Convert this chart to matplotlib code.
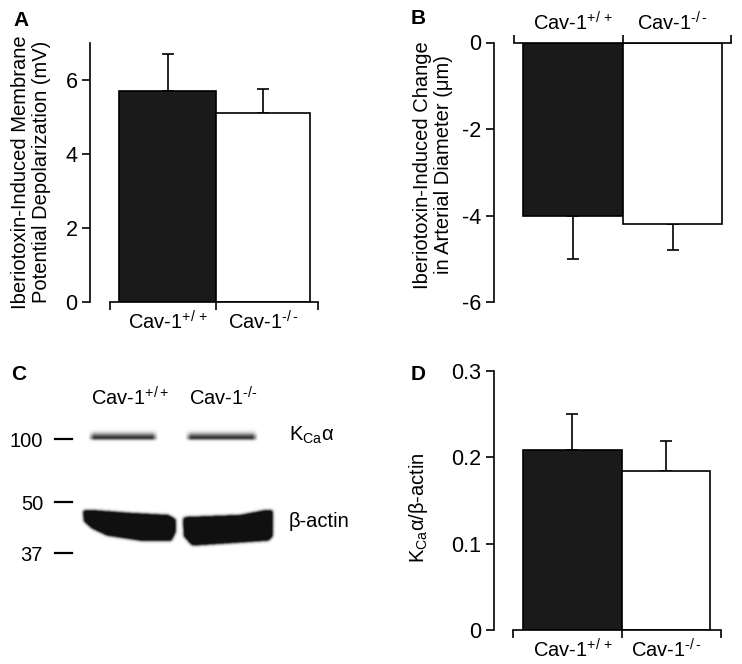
import numpy as np, matplotlib; matplotlib.use('Agg'); import matplotlib.pyplot as plt
from matplotlib.path import Path
from matplotlib.ticker import FixedLocator, NullFormatter, FixedFormatter

plt.rcParams['font.family'] = ['Liberation Sans', 'DejaVu Sans']
plt.rcParams['mathtext.fontset'] = 'custom'
plt.rcParams['mathtext.rm'] = 'Liberation Sans'
plt.rcParams['mathtext.it'] = 'Liberation Sans:italic'

# ---- data ----
groups = ['Cav-1$^{+/\\,+}$', 'Cav-1$^{\u2010/\\,\u2010}$']
depol_mV = [5.7, 5.1]; depol_sem = [1.0, 0.65]          # (A)
diam_um = [-4.0, -4.2]; diam_sem = [1.0, 0.6]           # (B)
ratio = [0.208, 0.184]; ratio_sem = [0.042, 0.035]      # (D)
lanes = ['Cav-1$^{+/+}$', 'Cav-1$^{\u2010/\u2010}$']     # (C)
mw_kda = [100, 50, 37]
blot_bands = ['K$_{\\rm Ca}$α', 'β-actin']

W, H = 742, 664
fig = plt.figure(figsize=(W/100, H/100), dpi=100)
BLACK = '#1a1a1a'; LW = 1.2; FS_T = 15.5; FS_L = 14.5; FS_C = 14.5

def bar_panel(box, bar0, unit, widths, ylim, line0, vals, errs, yticks, ylabs, top=False):
    l, t, r, b = box
    ax = fig.add_axes([l/W, 1-b/H, (r-l)/W, (b-t)/H])
    px = lambda p: (p-bar0)/unit
    x = np.arange(len(vals))
    ax.bar(x, vals, width=widths, align='edge', color=[BLACK, 'white'], edgecolor='k', lw=LW, zorder=2)
    cx = x+np.array(widths)/2
    z = [0]*len(vals)
    ye = [errs, z] if top else [z, errs]
    ax.errorbar(cx, vals, yerr=ye, fmt='none', ecolor='k', elinewidth=LW, capsize=4.5, capthick=LW, zorder=1)
    ax.set_xlim(px(l), px(r)); ax.set_ylim(*ylim)
    side = 'top' if top else 'bottom'
    for s in ['right', 'top', 'bottom']: ax.spines[s].set_visible(s == side)
    for s in ['left', side]: ax.spines[s].set_linewidth(LW)
    ax.spines['left'].set_bounds(*ylim)
    ax.spines[side].set_bounds(px(line0), px(r))
    ax.set_yticks(yticks); ax.set_yticklabels(ylabs, fontsize=FS_T)
    ax.tick_params(axis='y', length=6, width=LW, pad=3)
    if top: ax.xaxis.tick_top()
    ax.xaxis.set_major_locator(FixedLocator([px(line0), len(vals)-1, px(r)]))
    ax.xaxis.set_major_formatter(NullFormatter())
    ax.xaxis.set_minor_locator(FixedLocator(cx))
    ax.xaxis.set_minor_formatter(FixedFormatter(groups))
    ax.tick_params(axis='x', which='major', length=6, width=LW, direction='out')
    ax.tick_params(axis='x', which='minor', length=0, pad=6, labelsize=FS_C)
    ax.patch.set_alpha(0)
    return ax

# (A)
bar_panel((90, 43, 318, 302), 119, 97, [1.0, 0.97], (0, 7), 110, depol_mV, depol_sem,
          [0, 2, 4, 6], ['0', '2', '4', '6'])
fig.text(31/W, 1-172/H, 'Iberiotoxin-Induced Membrane\nPotential Depolarization (mV)', rotation=90,
         ha='center', va='center', fontsize=FS_L, linespacing=1.08)
# (B)
bar_panel((494, 42.5, 731, 302.3), 523, 100, [1.0, 0.99], (-6, 0), 514, diam_um, diam_sem,
          [-6, -4, -2, 0], ['-6', '-4', '-2', '0'], top=True)
fig.text(433/W, 1-165/H, 'Iberiotoxin-Induced Change\nin Arterial Diameter (μm)', rotation=90,
         ha='center', va='center', fontsize=FS_L, linespacing=1.08)
# (D)
bar_panel((494, 370.7, 721, 630), 523, 99, [1.0, 0.89], (0, 0.3), 513, ratio, ratio_sem,
          [0, 0.1, 0.2, 0.3], ['0', '0.1', '0.2', '0.3'])
fig.text(418/W, 1-508/H, 'K$_{\\rm Ca}$α/β-actin', rotation=90, ha='center', va='center', fontsize=FS_L)

# (C) western blot
axC = fig.add_axes([0, 0, 370/W, 324/H]); axC.set_xlim(0, 370); axC.set_ylim(664, 340); axC.axis('off')
xs = np.arange(70, 290, 0.5); ys = np.arange(415, 560, 0.5)
XX, YY = np.meshgrid(xs, ys); pts = np.c_[XX.ravel(), YY.ravel()]
dark = np.zeros_like(XX)
def sstep(v, a, b): return np.clip((v-a)/(b-a), 0, 1)
# KCa alpha bands (thin, fuzzy on top, grainy)
grain = 0.5+0.5*np.sin(XX*2.9+YY*1.3)*np.sin(XX*1.7-YY*3.1)
for x0, x1, yc in [(88, 158, 437.5), (185, 258, 437.5)]:
    ex = sstep(XX, x0, x0+6)*sstep(-XX, -x1, -x1+6)
    prof = np.where(YY > yc, np.exp(-((YY-yc)/2.2)**2), np.exp(-((YY-yc)/4.5)**2))
    dark += 0.95*ex*prof*(0.65+0.35*grain)
# beta-actin bands
polys = [[(83, 510), (90, 510), (130, 513), (168, 515), (175, 519), (175, 532), (171, 540), (140, 540),
          (107, 535), (92, 528), (84, 521)],
         [(183, 518), (187, 517), (240, 515), (266, 510), (272, 510), (272, 536), (268, 540), (223, 543),
          (192, 545), (184, 536)]]
k = np.exp(-0.5*(np.arange(-8, 9)/3.0)**2); k /= k.sum()
for p in polys:
    m = Path(p).contains_points(pts).reshape(XX.shape).astype(float)
    m = np.apply_along_axis(lambda r: np.convolve(r, k, 'same'), 1, m)
    m = np.apply_along_axis(lambda c: np.convolve(c, k, 'same'), 0, m)
    dark += 0.93*np.clip(m*1.5, 0, 1)
axC.imshow(np.clip(dark, 0, 1), cmap='gray_r', vmin=0, vmax=1, extent=[xs[0], xs[-1], ys[-1], ys[0]],
           interpolation='bilinear', aspect='auto', zorder=1)
axC.set_xlim(0, 370); axC.set_ylim(664, 340)
for xc, lab in zip([130, 223], lanes):
    axC.text(xc, 398, lab, ha='center', va='center', fontsize=FS_C)
for yy, kd in zip([439, 502, 553], mw_kda):
    axC.plot([55, 72], [yy, yy], color='k', lw=1.6)
    axC.text(43, yy+2, str(kd), ha='right', va='center', fontsize=FS_C)
for yy, lab in zip([435, 521], blot_bands):
    axC.text(289, yy, lab, ha='left', va='center', fontsize=FS_C)

for x, y, s in [(21, 20, 'A'), (418, 18, 'B'), (19, 375, 'C'), (418, 375, 'D')]:
    fig.text(x/W, 1-y/H, s, ha='center', va='center', fontsize=15, fontweight='bold')

plt.savefig('out.png', dpi=100)
